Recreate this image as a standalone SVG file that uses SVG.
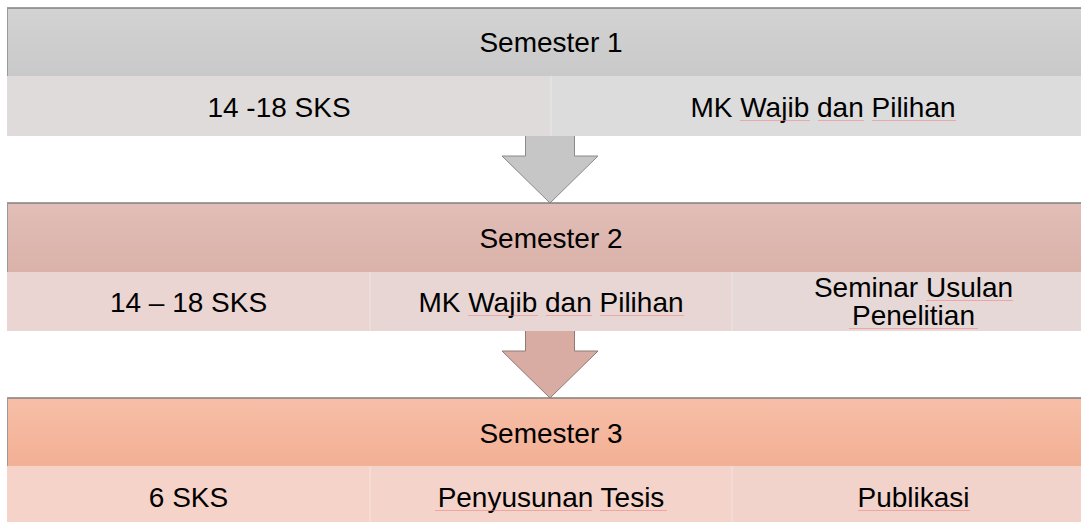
<svg xmlns="http://www.w3.org/2000/svg" width="1081" height="522" viewBox="0 0 1081 522">
<defs>
<linearGradient id="g1" x1="0" y1="0" x2="0" y2="1"><stop offset="0" stop-color="#d3d3d3"/><stop offset="1" stop-color="#c9c9c9"/></linearGradient>
<linearGradient id="g2" x1="0" y1="0" x2="0" y2="1"><stop offset="0" stop-color="#e1beb7"/><stop offset="1" stop-color="#dab2a9"/></linearGradient>
<linearGradient id="g3" x1="0" y1="0" x2="0" y2="1"><stop offset="0" stop-color="#f7bea7"/><stop offset="1" stop-color="#f2b095"/></linearGradient>
</defs>
<style>
text{font-family:"Liberation Sans",Arial,sans-serif;font-size:28px;fill:#000;text-anchor:middle}
.top{stroke:#7f7f7f;stroke-width:1.5}
.edge{stroke:#9a9a9a;stroke-width:1}
.sep{stroke:#ffffff;stroke-opacity:0.35;stroke-width:1}
.spell{stroke:#f08080;stroke-width:1;opacity:0.55}
.arrow{stroke-width:1;stroke-linejoin:miter}
</style>
<g id="connectors">
<path class="arrow" d="M525.5,136 V156 H502 L550,203 L598,156 H574.5 V136" fill="#c6c6c6" stroke="#8a8a8a"/>
<path class="arrow" d="M525.5,331 V351 H502 L550,398 L598,351 H574.5 V331" fill="#d8aca3" stroke="#8f7a76"/>
</g>
<g id="semester1">
<rect x="7" y="8" width="1088" height="68" fill="url(#g1)"/>
<rect x="7" y="76" width="544" height="60" fill="#e0dbdb"/>
<rect x="551" y="76" width="544" height="60" fill="#dcdcdc"/>
<line class="sep" x1="551" y1="76" x2="551" y2="136"/>
<line class="top" x1="7" y1="8" x2="1081" y2="8"/>
<line class="edge" x1="7.5" y1="8" x2="7.5" y2="76"/>
<text x="551" y="52">Semester 1</text>
<text x="279" y="117">14 -18 SKS</text>
<text x="823" y="117">MK Wajib dan Pilihan</text>
<line class="spell" x1="740" y1="120.5" x2="810" y2="120.5"/>
<line class="spell" x1="818" y1="120.5" x2="864" y2="120.5"/>
<line class="spell" x1="872" y1="120.5" x2="956" y2="120.5"/>
</g>
<g id="semester2">
<rect x="7" y="203" width="1088" height="69" fill="url(#g2)"/>
<rect x="7" y="272" width="363" height="59" fill="#ead5d2"/>
<rect x="370" y="272" width="362" height="59" fill="#e8d6d4"/>
<rect x="732" y="272" width="363" height="59" fill="#e5d8d7"/>
<line class="sep" x1="370" y1="272" x2="370" y2="331"/>
<line class="sep" x1="732" y1="272" x2="732" y2="331"/>
<line class="top" x1="7" y1="203" x2="1081" y2="203"/>
<line class="edge" x1="7.5" y1="203" x2="7.5" y2="272"/>
<text x="551" y="248">Semester 2</text>
<text x="188.5" y="312">14 – 18 SKS</text>
<text x="551" y="312">MK Wajib dan Pilihan</text>
<line class="spell" x1="468" y1="315.5" x2="538" y2="315.5"/>
<line class="spell" x1="546" y1="315.5" x2="592" y2="315.5"/>
<line class="spell" x1="600" y1="315.5" x2="684" y2="315.5"/>
<text x="913.5" y="297">Seminar Usulan</text>
<text x="913.5" y="325">Penelitian</text>
<line class="spell" x1="926" y1="300.5" x2="1013" y2="300.5"/>
<line class="spell" x1="849" y1="328.5" x2="978" y2="328.5"/>
</g>
<g id="semester3">
<rect x="7" y="398" width="1088" height="68" fill="url(#g3)"/>
<rect x="7" y="466" width="363" height="60" fill="#f6d3c8"/>
<rect x="370" y="466" width="362" height="60" fill="#f4d3ca"/>
<rect x="732" y="466" width="363" height="60" fill="#f1d3cc"/>
<line class="sep" x1="370" y1="466" x2="370" y2="522"/>
<line class="sep" x1="732" y1="466" x2="732" y2="522"/>
<line class="top" x1="7" y1="398" x2="1081" y2="398"/>
<line class="edge" x1="7.5" y1="398" x2="7.5" y2="466"/>
<text x="551" y="443">Semester 3</text>
<text x="188.5" y="507">6 SKS</text>
<text x="551" y="507">Penyusunan Tesis</text>
<line class="spell" x1="435" y1="510.5" x2="592" y2="510.5"/>
<line class="spell" x1="600" y1="510.5" x2="667" y2="510.5"/>
<text x="913.5" y="507">Publikasi</text>
<line class="spell" x1="858" y1="510.5" x2="970" y2="510.5"/>
</g>
</svg>
